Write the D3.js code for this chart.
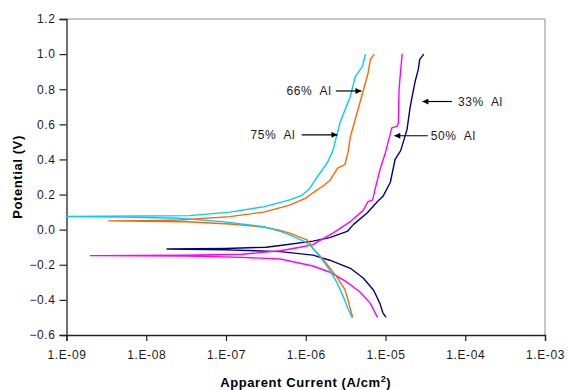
<!DOCTYPE html>
<html>
<head>
<meta charset="utf-8">
<script src="https://cdn.jsdelivr.net/npm/d3@7"></script>
<style>
  body { margin: 0; background: #fff; }
  text { font-family: "Liberation Sans", Arial, sans-serif; }
</style>
</head>
<body>
<svg id="chart"></svg>
<script>
// polarisation scans: [current density (A/cm2), potential (V)], cathodic end -> Ecorr -> anodic end
const al33 = [
  [1.02e-5, -0.50], [9.3e-6, -0.475], [8.5e-6, -0.42], [7.1e-6, -0.345], [5.25e-6, -0.275],
  [3.63e-6, -0.22], [2.0e-6, -0.174], [1.23e-6, -0.145], [4.8e-7, -0.125], [1.0e-7, -0.115],
  [1.82e-8, -0.11],
  [1.0e-7, -0.107], [3.16e-7, -0.10], [4.8e-7, -0.09], [1.23e-6, -0.065], [2.0e-6, -0.045],
  [3.31e-6, -0.01], [3.98e-6, 0.03], [5.89e-6, 0.095], [7.94e-6, 0.16], [9.3e-6, 0.19],
  [1.15e-5, 0.27], [1.32e-5, 0.40], [1.55e-5, 0.45], [1.86e-5, 0.57], [2.04e-5, 0.70],
  [2.34e-5, 0.84], [2.57e-5, 0.91], [2.69e-5, 0.97], [3.02e-5, 1.0]
];
const al50 = [
  [7.94e-6, -0.50], [6.46e-6, -0.42], [4.79e-6, -0.355], [3.31e-6, -0.30], [2.14e-6, -0.247],
  [1.23e-6, -0.207], [4.8e-7, -0.167], [1.58e-7, -0.158], [3.16e-8, -0.15], [2.0e-9, -0.148],
  [3.16e-8, -0.146], [1.58e-7, -0.14], [4.8e-7, -0.12], [8.5e-7, -0.10], [1.23e-6, -0.085],
  [2.19e-6, -0.02], [3.63e-6, 0.046], [5.25e-6, 0.11], [6.03e-6, 0.16], [6.9e-6, 0.17],
  [7.4e-6, 0.23], [8.5e-6, 0.34], [1.0e-5, 0.44], [1.2e-5, 0.58], [1.41e-5, 0.59],
  [1.45e-5, 0.61], [1.48e-5, 0.80], [1.55e-5, 0.91], [1.62e-5, 1.0]
];
const al66 = [
  [3.9e-6, -0.50], [3.63e-6, -0.455], [3.39e-6, -0.40], [3.09e-6, -0.34], [2.45e-6, -0.27],
  [1.66e-6, -0.17], [1.23e-6, -0.105], [1.05e-6, -0.06], [6.3e-7, -0.02], [4.8e-7, -0.005],
  [2.95e-7, 0.015], [1.12e-7, 0.032], [3.2e-8, 0.045], [3.4e-9, 0.05],
  [1.48e-8, 0.052], [2.63e-8, 0.055], [1.12e-7, 0.074], [2.95e-7, 0.10], [6.3e-7, 0.14],
  [1.0e-6, 0.18], [1.23e-6, 0.21], [1.66e-6, 0.25], [2.0e-6, 0.28], [2.51e-6, 0.35],
  [3.09e-6, 0.37], [3.39e-6, 0.44], [3.63e-6, 0.53], [4.37e-6, 0.66], [5.25e-6, 0.79],
  [6.03e-6, 0.89], [6.46e-6, 0.97], [7.24e-6, 1.0]
];
const al75 = [
  [3.8e-6, -0.50], [3.39e-6, -0.45], [2.95e-6, -0.38], [2.45e-6, -0.30], [2.0e-6, -0.23],
  [1.51e-6, -0.155], [1.2e-6, -0.10], [9.8e-7, -0.07], [6.3e-7, -0.03], [4.8e-7, -0.01],
  [2.95e-7, 0.017], [9.1e-8, 0.046], [2.5e-8, 0.065], [5.0e-9, 0.072], [1.0e-9, 0.075],
  [3.2e-9, 0.076], [1.0e-8, 0.078], [3.5e-8, 0.08], [1.12e-7, 0.10], [2.95e-7, 0.13],
  [6.3e-7, 0.17], [8.9e-7, 0.195], [1.1e-6, 0.23], [1.3e-6, 0.28], [1.55e-6, 0.33],
  [1.86e-6, 0.38], [2.19e-6, 0.45], [2.69e-6, 0.61], [3.63e-6, 0.76], [4.17e-6, 0.87],
  [5.13e-6, 0.93], [5.62e-6, 1.0]
];

const seriesNames = ["33% Al", "50% Al", "66% Al", "75% Al"];
const seriesData = [al33, al50, al66, al75];
const seriesColors = ["#000080", "#ff00ff", "#ff6600", "#00ccff"];

const xTicks = [1e-9, 1e-8, 1e-7, 1e-6, 1e-5, 1e-4, 1e-3];
const yTicks = [-0.6, -0.4, -0.2, 0.0, 0.2, 0.4, 0.6, 0.8, 1.0, 1.2];

// label text anchor point and arrow (from -> to), in data units
const labelNames = ["66% Al", "75% Al", "33% Al", "50% Al"];
const labelAt = [[2.1e-6, 0.79], [7.4e-7, 0.54], [8.1e-5, 0.73], [3.7e-5, 0.535]];
const labelSide = ["end", "end", "start", "start"];
const arrowFrom = [[2.4e-6, 0.79], [8.9e-7, 0.54], [6.8e-5, 0.73], [3.4e-5, 0.535]];
const arrowTo = [[5.0e-6, 0.79], [2.5e-6, 0.54], [2.9e-5, 0.73], [1.29e-5, 0.535]];

const width = 568, height = 390;
const margin = { top: 19, right: 23, bottom: 55, left: 66.5 };
const innerW = width - margin.left - margin.right;
const innerH = height - margin.top - margin.bottom;

const svg = d3.select("#chart").attr("width", width).attr("height", height);

svg.append("defs").append("marker")
  .attr("id", "head")
  .attr("viewBox", "0 0 10 10")
  .attr("refX", 10).attr("refY", 5)
  .attr("markerWidth", 7).attr("markerHeight", 6)
  .attr("markerUnits", "userSpaceOnUse")
  .attr("orient", "auto")
  .append("path").attr("d", "M0,0 L10,5 L0,10 Z").attr("fill", "#000");

const chart = svg.append("g").attr("transform", `translate(${margin.left},${margin.top})`);

const x = d3.scaleLog().domain([1e-9, 1e-3]).range([0, innerW]);
const y = d3.scaleLinear().domain([-0.6, 1.2]).range([innerH, 0]);

// plot frame (top/right grey)
chart.append("path")
  .attr("d", `M0,0 H${innerW} V${innerH}`)
  .attr("fill", "none").attr("stroke", "#8c8c8c").attr("stroke-width", 1);

const xAxis = chart.append("g")
  .attr("transform", `translate(0,${innerH})`)
  .call(d3.axisBottom(x).tickValues(xTicks).tickSize(6).tickPadding(9)
    .tickFormat(d => "1.E" + (Math.round(Math.log10(d)) < 0 ? "-" : "+") +
      String(Math.abs(Math.round(Math.log10(d)))).padStart(2, "0")));

const yAxis = chart.append("g")
  .call(d3.axisLeft(y).tickValues(yTicks).tickSize(7).tickPadding(4).tickFormat(d3.format(".1f")));

[xAxis, yAxis].forEach(g => {
  g.select(".domain").attr("stroke", "#222").attr("stroke-width", 1.3);
  g.selectAll(".tick line").attr("stroke", "#222").attr("stroke-width", 1.2);
  g.selectAll(".tick text").attr("fill", "#1a1a1a")
    .style("font-size", "12px").style("letter-spacing", "0.6px")
    .style("font-family", '"Liberation Sans", Arial, sans-serif');
});

const line = d3.line().x(d => x(d[0])).y(d => y(d[1]));

chart.selectAll(".scan")
  .data(seriesData)
  .join("path")
  .attr("class", "scan")
  .attr("d", line)
  .attr("fill", "none")
  .attr("stroke", (d, i) => seriesColors[i])
  .attr("stroke-width", 1.4)
  .attr("stroke-linejoin", "round");

// annotations
chart.selectAll(".arrow")
  .data(labelNames)
  .join("line")
  .attr("class", "arrow")
  .attr("x1", (d, i) => x(arrowFrom[i][0])).attr("y1", (d, i) => y(arrowFrom[i][1]))
  .attr("x2", (d, i) => x(arrowTo[i][0])).attr("y2", (d, i) => y(arrowTo[i][1]))
  .attr("stroke", "#000").attr("stroke-width", 1.2)
  .attr("marker-end", "url(#head)");

chart.selectAll(".lbl")
  .data(labelNames)
  .join("text")
  .attr("class", "lbl")
  .attr("x", (d, i) => x(labelAt[i][0]))
  .attr("y", (d, i) => y(labelAt[i][1]))
  .attr("dy", "0.35em")
  .attr("text-anchor", (d, i) => labelSide[i])
  .attr("fill", "#1a1a1a")
  .style("font-size", "12px").style("letter-spacing", "0.6px").style("white-space", "pre")
  .text(d => d.replace(" ", "  "));

// axis titles
const xTitle = svg.append("text")
  .attr("x", margin.left + innerW / 2).attr("y", 387)
  .attr("text-anchor", "middle")
  .style("font-size", "13px").style("font-weight", "bold").style("letter-spacing", "0.6px");
xTitle.append("tspan").text("Apparent Current (A/cm");
xTitle.append("tspan").attr("dy", -5).style("font-size", "9px").text("2");
xTitle.append("tspan").attr("dy", 5).text(")");

svg.append("text")
  .attr("transform", `translate(22,${margin.top + innerH / 2}) rotate(-90)`)
  .attr("text-anchor", "middle")
  .style("font-size", "13px").style("font-weight", "bold").style("letter-spacing", "0.6px")
  .text("Potential (V)");
</script>
</body>
</html>
